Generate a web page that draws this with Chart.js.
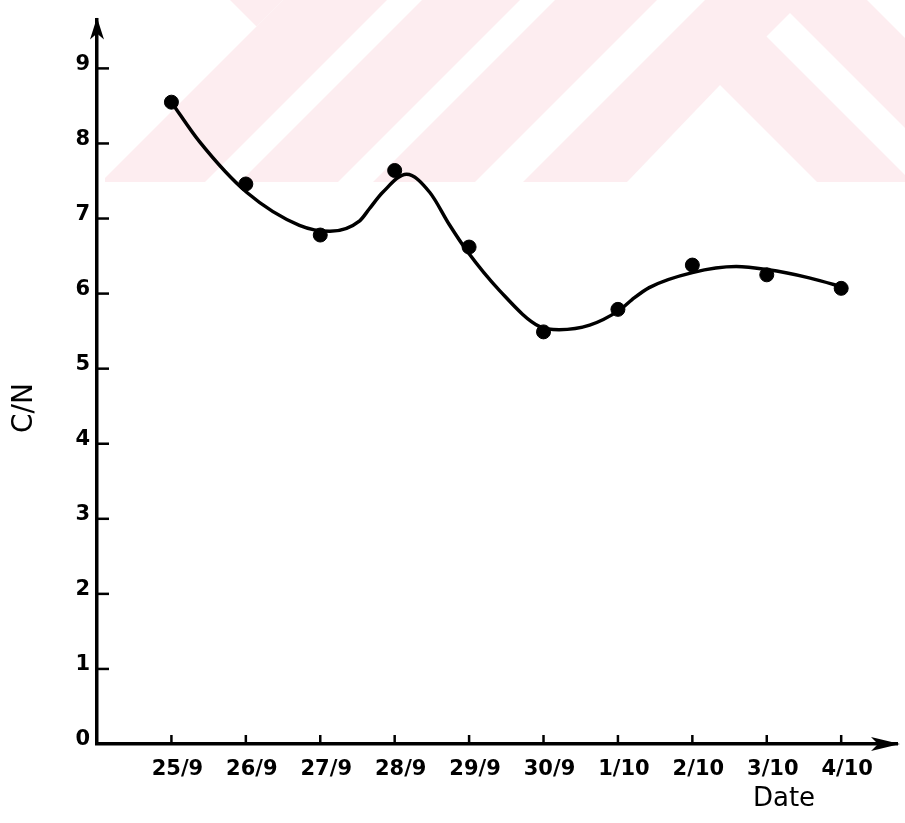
<!DOCTYPE html>
<html>
<head>
<meta charset="utf-8">
<script src="https://cdn.jsdelivr.net/npm/chart.js@4.4.0/dist/chart.umd.min.js"></script>
<style>
  body { margin: 0; background: #fff; }
  canvas { display: block; }
</style>
</head>
<body>
<canvas id="cnChart" width="905" height="823"></canvas>
<script>
// sampling dates and measured C/N ratio
const dates = ['25/9', '26/9', '27/9', '28/9', '29/9', '30/9', '1/10', '2/10', '3/10', '4/10']
const cnValues = [8.55, 7.46, 6.78, 7.64, 6.62, 5.49, 5.79, 6.38, 6.25, 6.07]

// hand drawn trend curve (x in day steps, 25/9 = 1)
const curveX = [1.0, 1.38, 2.01, 2.72, 3.13, 3.53, 3.66, 3.84, 4.16, 4.47, 4.74, 4.97, 5.41, 5.95, 6.21, 6.62, 7.02, 7.19, 7.42, 8.0, 8.59, 9.0, 9.57, 10.08]
const curveY = [8.55, 8.02, 7.35, 6.91, 6.83, 6.97, 7.13, 7.35, 7.59, 7.35, 6.91, 6.57, 6.04, 5.56, 5.52, 5.58, 5.78, 5.92, 6.08, 6.28, 6.36, 6.32, 6.21, 6.07]

const yTicks = [0, 1, 2, 3, 4, 5, 6, 7, 8, 9]

let points = cnValues.map((v, i) => ({x: i + 1, y: v}))
let curve = curveX.map((x, i) => ({x: x, y: curveY[i]}))

function poly(ctx, pts) {
  ctx.beginPath()
  ctx.moveTo(pts[0][0], pts[0][1])
  for (let i = 1; i < pts.length; i++) ctx.lineTo(pts[i][0], pts[i][1])
  ctx.closePath()
  ctx.fill()
}

function band(ctx, a, b) {
  poly(ctx, [[a, 0], [b, 0], [b - 182, 182], [a - 182, 182]])
}

const paperMarks = {
  id: 'paperMarks',
  beforeDraw(chart) {
    // faint watermark of the scanned page
    const ctx = chart.ctx
    ctx.save()
    ctx.beginPath()
    ctx.rect(105, 0, 800, 182)
    ctx.clip()
    ctx.fillStyle = '#fdedf0'
    band(ctx, 283, 387)
    poly(ctx, [[230, 0], [283, 0], [256.5, 26.5]])
    band(ctx, 422, 520)
    band(ctx, 555, 657)
    poly(ctx, [[705, 0], [867, 0], [1049, 182], [523, 182]])
    ctx.fillStyle = '#fff'
    poly(ctx, [[720, 85], [817, 182], [627, 182]])
    poly(ctx, [[766.5, 36.5], [790, 13], [959, 182], [912, 182]])
    ctx.restore()
  },
  afterDraw(chart) {
    const ctx = chart.ctx
    const area = chart.chartArea
    const xs = chart.scales.x
    const ys = chart.scales.y
    ctx.save()
    ctx.strokeStyle = '#000'
    ctx.fillStyle = '#000'
    ctx.lineWidth = 2.5

    // tick marks point into the plot
    yTicks.forEach(v => {
      if (v == 0) return
      let py = ys.getPixelForValue(v)
      ctx.beginPath()
      ctx.moveTo(area.left, py)
      ctx.lineTo(area.left + 12, py)
      ctx.stroke()
    })
    dates.forEach((d, i) => {
      let px = xs.getPixelForValue(i + 1)
      ctx.beginPath()
      ctx.moveTo(px, area.bottom)
      ctx.lineTo(px, area.bottom - 9)
      ctx.stroke()
    })

    // arrow heads
    let l = area.left, t = area.top
    poly(ctx, [[l, t - 2], [l + 7, t + 20], [l, t + 14], [l - 7, t + 20]])
    let r = area.right, b = area.bottom
    poly(ctx, [[r + 3, b], [r - 26, b + 7], [r - 19, b], [r - 26, b - 7]])

    // axis titles
    ctx.font = '26px "DejaVu Sans"'
    ctx.textAlign = 'center'
    ctx.textBaseline = 'middle'
    ctx.fillText('Date', 784, 799)
    ctx.translate(25, 408)
    ctx.rotate(-Math.PI / 2)
    ctx.font = '28px "DejaVu Sans"'
    ctx.fillText('C/N', 0, 0)
    ctx.restore()
  }
}

const config = {
  type: 'scatter',
  data: {
    datasets: [
      {
        label: 'C/N',
        data: points,
        backgroundColor: '#000',
        borderColor: '#000',
        pointRadius: 7,
        showLine: false
      },
      {
        label: 'trend',
        data: curve,
        showLine: true,
        borderColor: '#000',
        borderWidth: 3.5,
        pointRadius: 0,
        cubicInterpolationMode: 'monotone',
        fill: false
      }
    ]
  },
  options: {
    responsive: false,
    animation: false,
    layout: {padding: {top: 8, right: 7, left: 0, bottom: 0}},
    plugins: {
      legend: {display: false},
      tooltip: {enabled: false}
    },
    scales: {
      x: {
        type: 'linear',
        min: 0,
        max: 10.75,
        grid: {display: false, drawTicks: false},
        border: {display: true, color: '#000', width: 3.5},
        afterBuildTicks: s => { s.ticks = dates.map((d, i) => ({value: i + 1})) },
        afterFit: s => { s.height = 79 },
        ticks: {
          autoSkip: false,
          maxRotation: 0,
          padding: 13,
          labelOffset: 6,
          color: '#000',
          font: {family: 'DejaVu Sans', weight: 'bold', size: 21},
          callback: v => dates[v - 1] || ''
        }
      },
      y: {
        type: 'linear',
        min: 0,
        max: 9.65,
        grid: {display: false, drawTicks: false},
        border: {display: true, color: '#000', width: 3.5},
        afterBuildTicks: s => { s.ticks = yTicks.map(v => ({value: v})) },
        afterFit: s => { s.width = 97 },
        ticks: {
          padding: 7,
          labelOffset: -4,
          color: '#000',
          font: {family: 'DejaVu Sans', weight: 'bold', size: 21}
        }
      }
    }
  },
  plugins: [paperMarks]
}

const cnChart = new Chart(document.getElementById('cnChart'), config)
</script>
</body>
</html>
